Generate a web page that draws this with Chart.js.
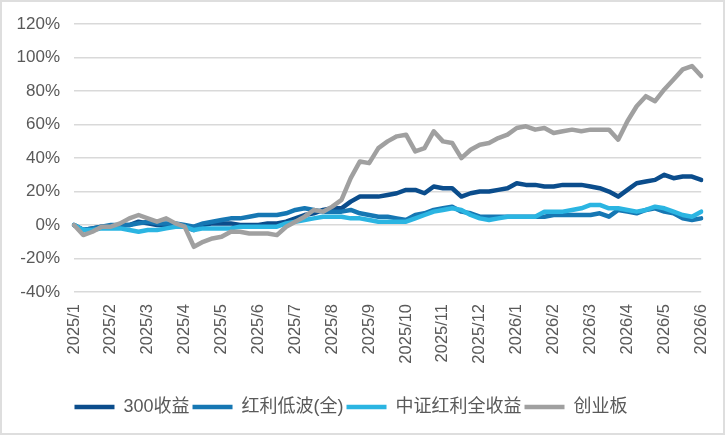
<!DOCTYPE html>
<html>
<head>
<meta charset="utf-8">
<script src="https://cdn.jsdelivr.net/npm/chart.js@4"></script>
<style>
  body { margin: 0; background: #fff; }
  #wrap { position: relative; width: 725px; height: 435px; }
  #frame { position: absolute; left: 0; top: 0; width: 725px; height: 435px; box-sizing: border-box; border: 2px solid #dedede; pointer-events: none; }
</style>
</head>
<body>
<div id="wrap">
  <canvas id="bpChart" width="725" height="435"></canvas>
  <div id="frame"></div>
</div>
<script>
// month tick labels, data is read roughly once a week (4 points per month)
const months = ['2025/1','2025/2','2025/3','2025/4','2025/5','2025/6','2025/7','2025/8','2025/9',
  '2025/10','2025/11','2025/12','2026/1','2026/2','2026/3','2026/4','2026/5','2026/6'];

const seriesNames = ['300收益', '红利低波(全)', '中证红利全收益', '创业板'];

// values in %
const hs300 = [0,-3,-2,-1,-1,0,0,2,1,0,0,-1,-1,-3,0,1,1,1,0,0,0,1,1,2,4,6,7,9,10,10,14,17,17,17,18,19,
  21,21,19,23,22,22,17,19,20,20,21,22,25,24,24,23,23,24,24,24,23,22,20,17,21,25,26,27,30,28,29,29,27];
const lowVol = [0,-3,-2,-1,0,0,0,1,2,1,1,1,0,-1,1,2,3,4,4,5,6,6,6,7,9,10,9,8,8,8,9,7,6,5,5,4,
  3,6,7,9,10,11,8,7,5,5,5,5,5,5,5,5,6,6,6,6,6,7,5,9,8,7,9,10,8,7,4,3,4];
const csiDiv = [0,-3,-3,-2,-2,-2,-3,-4,-3,-3,-2,-1,-1,-3,-2,-2,-2,-2,-1,-1,-1,-1,-1,1,2,3,4,5,5,5,4,4,3,2,2,2,
  2,4,6,8,9,10,9,6,4,3,4,5,5,5,5,8,8,8,9,10,12,12,10,10,9,8,9,11,10,8,6,5,8];
const chinext = [0,-6,-4,-1,-1,1,4,6,4,2,4,1,-1,-13,-10,-8,-7,-4,-4,-5,-5,-5,-6,-1,2,5,9,8,11,15,28,38,37,46,50,53,
  54,44,46,56,50,49,40,45,48,49,52,54,58,59,57,58,55,56,57,56,57,57,57,51,62,71,77,74,81,87,93,95,89];

const colors = ['#0b4d8c', '#1677b3', '#2bb5e2', '#a0a0a0'];

const labels = chinext.map((v, i) => i % 4 === 0 ? months[i / 4] : '');

const font = "'Liberation Sans', Arial, 'Noto Sans CJK SC', sans-serif";

function makeSet(name, values, color, order) {
    return {
        label: name,
        data: values,
        borderColor: color,
        backgroundColor: color,
        borderWidth: 4.5,
        borderCapStyle: 'round',
        borderJoinStyle: 'round',
        pointRadius: 0,
        tension: 0,
        order: order
    };
}

const ctx = document.getElementById('bpChart').getContext('2d');
const chart = new Chart(ctx, {
    type: 'line',
    data: {
        labels: labels,
        datasets: [
            makeSet(seriesNames[0], hs300, colors[0], 3),
            makeSet(seriesNames[1], lowVol, colors[1], 2),
            makeSet(seriesNames[2], csiDiv, colors[2], 1),
            makeSet(seriesNames[3], chinext, colors[3], 0)
        ]
    },
    options: {
        responsive: false,
        animation: false,
        layout: { padding: { top: 20, right: 23, left: 0, bottom: 9 } },
        plugins: {
            tooltip: { enabled: false },
            legend: {
                position: 'bottom',
                labels: {
                    usePointStyle: true,
                    pointStyle: 'line',
                    pointStyleWidth: 40,
                    padding: 3,
                    color: '#595959',
                    font: { family: font, size: 18 },
                    sort: (a, b) => a.datasetIndex - b.datasetIndex
                }
            }
        },
        scales: {
            x: {
                grid: { display: false },
                border: { display: false },
                ticks: {
                    autoSkip: false,
                    minRotation: 90,
                    maxRotation: 90,
                    padding: 4,
                    color: '#595959',
                    font: { family: font, size: 16.5 }
                },
                afterFit: function(scale) { scale.height = 103; }
            },
            y: {
                min: -40,
                max: 120,
                grid: { color: '#d9d9d9', lineWidth: 1.5, drawTicks: false },
                border: { display: false },
                ticks: {
                    stepSize: 20,
                    padding: 14,
                    color: '#595959',
                    font: { family: font, size: 17 },
                    callback: v => v + '%'
                },
                afterFit: function(scale) { scale.width = 74; }
            }
        }
    }
});
</script>
</body>
</html>
